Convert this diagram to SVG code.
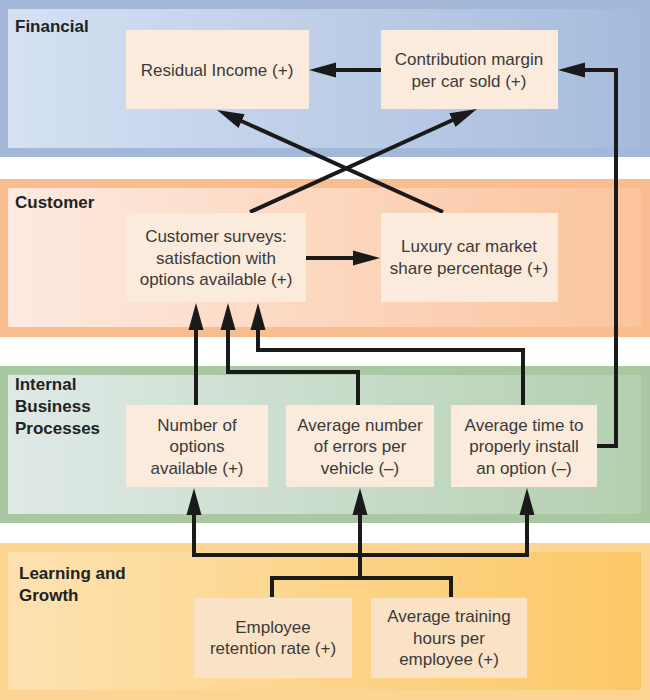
<svg xmlns="http://www.w3.org/2000/svg" width="650" height="700" viewBox="0 0 650 700">
<defs>
<linearGradient id="gFin" x1="0" y1="0" x2="1" y2="0"><stop offset="0" stop-color="#d5e1f3"/><stop offset="1" stop-color="#a6bbdc"/></linearGradient>
<linearGradient id="gCus" x1="0" y1="0" x2="1" y2="0"><stop offset="0" stop-color="#fdeae1"/><stop offset="1" stop-color="#fbc49d"/></linearGradient>
<linearGradient id="gInt" x1="0" y1="0" x2="1" y2="0"><stop offset="0" stop-color="#dfe9e7"/><stop offset="1" stop-color="#b4d0b0"/></linearGradient>
<linearGradient id="gLea" x1="0" y1="0" x2="1" y2="0"><stop offset="0" stop-color="#fde2b0"/><stop offset="1" stop-color="#fbc866"/></linearGradient>
<marker id="ah" markerUnits="userSpaceOnUse" markerWidth="30" markerHeight="16" viewBox="0 0 30 16" refX="1" refY="8" orient="auto">
<path d="M0,0.5 L27,8 L0,15.5 z" fill="#1a1a1a"/>
</marker>
<style>
.lbl{font-family:"Liberation Sans",Arial,sans-serif;font-size:17px;font-weight:bold;fill:#222}
.t{font-family:"Liberation Sans",Arial,sans-serif;font-size:17px;fill:#3a3a3a;text-anchor:middle}
.box{fill:#fbebdc}
.boxl{fill:#fae2c6}
.c{fill:none;stroke:#1a1a1a;stroke-width:4;stroke-linejoin:miter}
.a{marker-end:url(#ah)}
</style>
</defs>
<rect width="650" height="700" fill="#ffffff"/>
<g id="band-financial">
<rect x="0" y="0" width="650" height="157" fill="#a3b8d8"/>
<rect x="8" y="9" width="633" height="139" fill="url(#gFin)"/>
<text class="lbl" x="15" y="32">Financial</text>
</g>
<g id="band-customer">
<rect x="0" y="179" width="650" height="158" fill="#f9bd90"/>
<rect x="8" y="188" width="633" height="139" fill="url(#gCus)"/>
<text class="lbl" x="15" y="208">Customer</text>
</g>
<g id="band-internal">
<rect x="0" y="366" width="650" height="157" fill="#a9c8a1"/>
<rect x="8" y="375" width="633" height="139" fill="url(#gInt)"/>
<text class="lbl" x="15" y="390">Internal</text>
<text class="lbl" x="15" y="412">Business</text>
<text class="lbl" x="15" y="434">Processes</text>
</g>
<g id="band-learning">
<rect x="0" y="543" width="650" height="157" fill="#fcd592"/>
<rect x="8" y="552" width="633" height="138" fill="url(#gLea)"/>
<text class="lbl" x="19" y="579">Learning and</text>
<text class="lbl" x="19" y="601">Growth</text>
</g>
<g id="connectors">
<path class="c a" d="M381,70 H335"/>
<path class="c a" d="M597,446 H616 V70 H584"/>
<path class="c a" d="M306,258 H354"/>
<path class="c a" d="M250,212 L453.3,119.7"/>
<path class="c a" d="M443,212 L240.7,120.7"/>
<path class="c a" d="M196,405 V329"/>
<path class="c a" d="M358,405 V372 H228 V329"/>
<path class="c a" d="M523,405 V350 H258 V329"/>
<path class="c" d="M272,597 V578 H451 V597"/>
<path class="c" d="M360,578 V553"/>
<path class="c a" d="M360,555 H194 V514"/>
<path class="c a" d="M360,555 H527 V514"/>
<path class="c a" d="M360,553 V514"/>
</g>
<g id="node-residual-income">
<rect class="box" x="126" y="30" width="183" height="79"/>
<text class="t" x="217" y="76">Residual Income (+)</text>
</g>
<g id="node-contribution-margin">
<rect class="box" x="381" y="30" width="177" height="79"/>
<text class="t" x="469" y="65">Contribution margin</text>
<text class="t" x="469" y="87">per car sold (+)</text>
</g>
<g id="node-customer-surveys">
<rect class="box" x="127" y="213" width="179" height="89"/>
<text class="t" x="216" y="242">Customer surveys:</text>
<text class="t" x="216" y="263.5">satisfaction with</text>
<text class="t" x="216" y="285">options available (+)</text>
</g>
<g id="node-luxury-share">
<rect class="box" x="381" y="213" width="177" height="89"/>
<text class="t" x="469" y="252">Luxury car market</text>
<text class="t" x="469" y="274">share percentage (+)</text>
</g>
<g id="node-number-options">
<rect class="box" x="126" y="405" width="142" height="82"/>
<text class="t" x="197" y="430.5">Number of</text>
<text class="t" x="197" y="452">options</text>
<text class="t" x="197" y="473.5">available (+)</text>
</g>
<g id="node-avg-errors">
<rect class="box" x="286" y="405" width="148" height="82"/>
<text class="t" x="360" y="430.5">Average number</text>
<text class="t" x="360" y="452">of errors per</text>
<text class="t" x="360" y="473.5">vehicle (–)</text>
</g>
<g id="node-avg-install-time">
<rect class="box" x="451" y="405" width="146" height="82"/>
<text class="t" x="524" y="430.5">Average time to</text>
<text class="t" x="524" y="452">properly install</text>
<text class="t" x="524" y="473.5">an option (–)</text>
</g>
<g id="node-employee-retention">
<rect class="boxl" x="194" y="598" width="158" height="80"/>
<text class="t" x="273" y="633">Employee</text>
<text class="t" x="273" y="654">retention rate (+)</text>
</g>
<g id="node-training-hours">
<rect class="boxl" x="371" y="598" width="156" height="80"/>
<text class="t" x="449" y="622">Average training</text>
<text class="t" x="449" y="643.5">hours per</text>
<text class="t" x="449" y="665">employee (+)</text>
</g>
</svg>
